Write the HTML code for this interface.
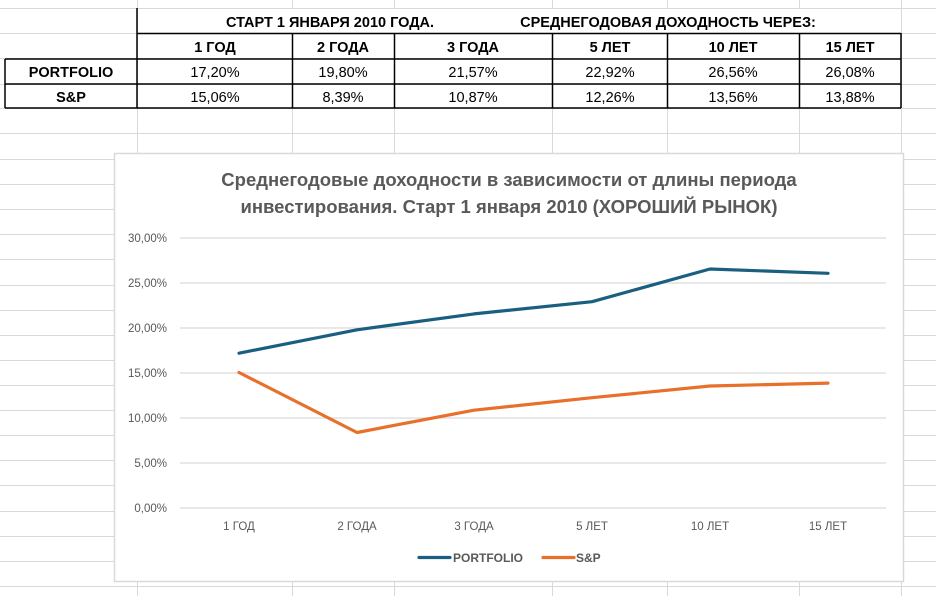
<!DOCTYPE html>
<html><head><meta charset="utf-8"><style>
body{margin:0;width:936px;height:596px;overflow:hidden;background:#fff;font-family:"Liberation Sans","DejaVu Sans",sans-serif;}
</style></head><body>
<svg width="936" height="596" xmlns="http://www.w3.org/2000/svg" style="position:absolute;left:0;top:0">
<g stroke="#d9d9d9" stroke-width="1">
<line x1="0" x2="936" y1="8.5" y2="8.5"/>
<line x1="0" x2="936" y1="33.5" y2="33.5"/>
<line x1="0" x2="936" y1="58.5" y2="58.5"/>
<line x1="0" x2="936" y1="84.5" y2="84.5"/>
<line x1="0" x2="936" y1="108.5" y2="108.5"/>
<line x1="0" x2="936" y1="133.5" y2="133.5"/>
<line x1="0" x2="936" y1="159.5" y2="159.5"/>
<line x1="0" x2="936" y1="184.5" y2="184.5"/>
<line x1="0" x2="936" y1="209.5" y2="209.5"/>
<line x1="0" x2="936" y1="234.5" y2="234.5"/>
<line x1="0" x2="936" y1="259.5" y2="259.5"/>
<line x1="0" x2="936" y1="285.5" y2="285.5"/>
<line x1="0" x2="936" y1="310.5" y2="310.5"/>
<line x1="0" x2="936" y1="335.5" y2="335.5"/>
<line x1="0" x2="936" y1="360.5" y2="360.5"/>
<line x1="0" x2="936" y1="385.5" y2="385.5"/>
<line x1="0" x2="936" y1="410.5" y2="410.5"/>
<line x1="0" x2="936" y1="435.5" y2="435.5"/>
<line x1="0" x2="936" y1="460.5" y2="460.5"/>
<line x1="0" x2="936" y1="485.5" y2="485.5"/>
<line x1="0" x2="936" y1="511.5" y2="511.5"/>
<line x1="0" x2="936" y1="536.5" y2="536.5"/>
<line x1="0" x2="936" y1="561.5" y2="561.5"/>
<line x1="0" x2="936" y1="586.5" y2="586.5"/>
<line x1="137.5" x2="137.5" y1="0" y2="596"/>
<line x1="292.5" x2="292.5" y1="0" y2="596"/>
<line x1="394.5" x2="394.5" y1="0" y2="596"/>
<line x1="552.5" x2="552.5" y1="0" y2="596"/>
<line x1="667.5" x2="667.5" y1="0" y2="596"/>
<line x1="799.5" x2="799.5" y1="0" y2="596"/>
<line x1="901.5" x2="901.5" y1="0" y2="596"/>
</g>
<rect x="138" y="9" width="763" height="24" fill="#fff"/>
<rect x="0" y="34" width="137" height="24" fill="#fff"/>
<g stroke="#000" stroke-width="1.5" fill="none">
<line x1="137" x2="137" y1="8" y2="108"/>
<line x1="137" x2="901" y1="33.5" y2="33.5"/>
<line x1="5" x2="901" y1="59" y2="59"/>
<line x1="5" x2="901" y1="84" y2="84"/>
<line x1="5" x2="901" y1="108" y2="108"/>
<line x1="5" x2="5" y1="59" y2="108"/>
<line x1="292.5" x2="292.5" y1="33" y2="108"/>
<line x1="394.5" x2="394.5" y1="33" y2="108"/>
<line x1="552.5" x2="552.5" y1="33" y2="108"/>
<line x1="667.5" x2="667.5" y1="33" y2="108"/>
<line x1="799.5" x2="799.5" y1="33" y2="108"/>
<line x1="901" x2="901" y1="33" y2="108"/>
</g>
<g font-size="14.5" fill="#000" text-anchor="middle" font-weight="bold">
<text x="330" y="27">СТАРТ 1 ЯНВАРЯ 2010 ГОДА.</text>
<text x="668" y="27">СРЕДНЕГОДОВАЯ ДОХОДНОСТЬ ЧЕРЕЗ:</text>
<text x="215" y="52">1 ГОД</text><text x="343" y="52">2 ГОДА</text><text x="473" y="52">3 ГОДА</text>
<text x="610" y="52">5 ЛЕТ</text><text x="733" y="52">10 ЛЕТ</text><text x="850" y="52">15 ЛЕТ</text>
<text x="71" y="77">PORTFOLIO</text><text x="71" y="102">S&amp;P</text>
</g>
<g font-size="14.5" fill="#000" text-anchor="middle">
<text x="215" y="77">17,20%</text><text x="343" y="77">19,80%</text><text x="473" y="77">21,57%</text><text x="610" y="77">22,92%</text><text x="733" y="77">26,56%</text><text x="850" y="77">26,08%</text>
<text x="215" y="102">15,06%</text><text x="343" y="102">8,39%</text><text x="473" y="102">10,87%</text><text x="610" y="102">12,26%</text><text x="733" y="102">13,56%</text><text x="850" y="102">13,88%</text>
</g>
<rect x="114.5" y="153.5" width="789" height="428" fill="#fff" stroke="#d9d9d9" stroke-width="1.5"/>
<g font-size="18.5" font-weight="bold" fill="#595959" text-anchor="middle">
<text x="509" y="186">Среднегодовые доходности в зависимости от длины периода</text>
<text x="509" y="213">инвестирования. Старт 1 января 2010 (ХОРОШИЙ РЫНОК)</text>
</g>
<g stroke="#d9d9d9" stroke-width="1.2">
<line x1="180" x2="886" y1="238" y2="238"/><line x1="180" x2="886" y1="283" y2="283"/>
<line x1="180" x2="886" y1="328" y2="328"/><line x1="180" x2="886" y1="373" y2="373"/>
<line x1="180" x2="886" y1="418" y2="418"/><line x1="180" x2="886" y1="463" y2="463"/>
<line x1="180" x2="886" y1="508" y2="508"/>
</g>
<g font-size="11.5" fill="#595959" text-anchor="end">
<text x="167" y="242">30,00%</text><text x="167" y="287">25,00%</text><text x="167" y="332">20,00%</text>
<text x="167" y="377">15,00%</text><text x="167" y="422">10,00%</text><text x="167" y="467">5,00%</text><text x="167" y="512">0,00%</text>
</g>
<g font-size="11.5" fill="#595959" text-anchor="middle">
<text x="239" y="530">1 ГОД</text><text x="357" y="530">2 ГОДА</text><text x="474" y="530">3 ГОДА</text>
<text x="592" y="530">5 ЛЕТ</text><text x="710" y="530">10 ЛЕТ</text><text x="828" y="530">15 ЛЕТ</text>
</g>
<polyline fill="none" stroke="#1b5f80" stroke-width="3.2" stroke-linejoin="round" stroke-linecap="round" points="239,353.2 357,329.8 474,313.9 592,301.7 710,269 828,273.3"/>
<polyline fill="none" stroke="#e8702a" stroke-width="3.2" stroke-linejoin="round" stroke-linecap="round" points="239,372.5 357,432.5 474,410.2 592,397.7 710,386 828,383.1"/>
<line x1="419" x2="450" y1="557.5" y2="557.5" stroke="#1b5f80" stroke-width="3.2" stroke-linecap="round"/>
<line x1="543" x2="574" y1="557.5" y2="557.5" stroke="#e8702a" stroke-width="3.2" stroke-linecap="round"/>
<g font-size="12" font-weight="bold" fill="#595959">
<text x="453" y="562">PORTFOLIO</text><text x="576" y="562">S&amp;P</text>
</g>
</svg>
</body></html>
